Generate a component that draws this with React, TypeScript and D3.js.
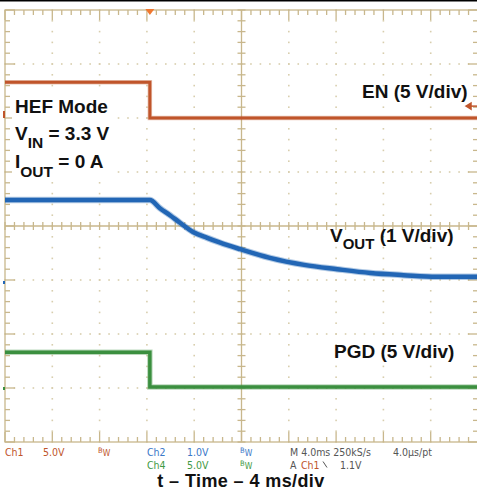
import * as d3 from "d3";

// scope screen: 10 x 8 divisions, 5 minor ticks each
const W = 477;
const H = 493;

// time axis (ms), 4 ms/div
const timeDomain = [-12, 28];
const edgeTime = 0.25;

// Ch1 EN (V)
const enTime = [-12, edgeTime, edgeTime, 28];
const enVolts = [3.3, 3.3, 0, 0];

// Ch2 VOUT (V)
const voutTime = [-12, 0.25, 1.1, 1.95, 2.8, 3.9, 5.1, 6.2, 7.9, 10.4, 13.3, 16.1, 18.9, 21.7, 24.5, 28];
const voutVolts = [1.48, 1.48, 1.33, 1.2, 1.06, 0.89, 0.78, 0.69, 0.57, 0.41, 0.28, 0.2, 0.13, 0.09, 0.06, 0.06];

// Ch4 PGD (V)
const pgdTime = [-12, edgeTime, edgeTime, 28];
const pgdVolts = [3.3, 3.3, 0.1, 0.1];

// channel setup: volts per division, ground level in divisions from centre
const ch1 = { vdiv: 5, ground: 2 };
const ch2 = { vdiv: 1, ground: -1 };
const ch4 = { vdiv: 5, ground: -3 };
const trigLevel = 1.1;

const readoutRow1 = ["Ch1", "5.0V", "BW", "Ch2", "1.0V", "BW", "M 4.0ms 250kS/s", "4.0\u00b5s/pt"];
const readoutRow2 = ["Ch4", "5.0V", "BW", "A", "Ch1", "", "1.1V"];

const ORANGE = "#c0552b";
const BLUE = "#2266b5";
const GREEN = "#3b8f3f";
const GRID = "#c8b78c";
const DOT = "#d8cead";
const GRAY = "#555555";
const TXT_BLUE = "#3a78c8";
const TXT_GREEN = "#3f9a45";

const row1X = [5, 43, 98, 147, 187, 240, 290, 393];
const row1C = [ORANGE, ORANGE, ORANGE, TXT_BLUE, TXT_BLUE, TXT_BLUE, GRAY, GRAY];
const row2X = [147, 187, 240, 290, 301, 323, 340];
const row2C = [TXT_GREEN, TXT_GREEN, TXT_GREEN, GRAY, ORANGE, GRAY, GRAY];

const App = () => {
  const left = 5, right = 478, top = 10, bottom = 442;
  const x = d3.scaleLinear().domain(timeDomain).range([left, right]);
  const divX = d3.scaleLinear().domain([0, 10]).range([left, right]);
  const divY = d3.scaleLinear().domain([-4, 4]).range([bottom, top]);
  const chY = (ch: { vdiv: number; ground: number }, v: number) => divY(ch.ground + v / ch.vdiv);

  const stepLine = (ch: { vdiv: number; ground: number }) =>
    d3.line<[number, number]>().x((d) => x(d[0])).y((d) => chY(ch, d[1]));

  const enPath = stepLine(ch1)(enTime.map((t, i) => [t, enVolts[i]] as [number, number])) as string;
  const voutPath = stepLine(ch2)
    .curve(d3.curveMonotoneX)(voutTime.map((t, i) => [t, voutVolts[i]] as [number, number])) as string;
  const pgdPath = stepLine(ch4)(pgdTime.map((t, i) => [t, pgdVolts[i]] as [number, number])) as string;

  const minorX = d3.range(0, 51).map((i) => i / 5);
  const minorY = d3.range(-20, 21).map((i) => i / 5);
  const majorX = d3.range(1, 10).filter((i) => i !== 5);
  const majorY = d3.range(-3, 4).filter((i) => i !== 0);

  const cx = divX(5);
  const cy = divY(0);
  const trigX = x(edgeTime);
  const trigY = chY(ch1, trigLevel);

  const row1Y = 456;
  const row2Y = 468.5;

  const readout = (t: string, i: number, px: number, py: number, color: string, key: string) => {
    if (t === "BW")
      return (
        <text key={key} x={px} y={py - 3} fill={color} fontSize={7.5}>
          B<tspan dy={3} fontSize={8.5}>W</tspan>
        </text>
      );
    if (t === "")
      return <path key={key} d={`M${px},${py - 7}L${px + 4},${py - 1}`} stroke={color} strokeWidth={1} fill="none" />;
    return (
      <text key={key} x={px} y={py} fill={color}>
        {t}
      </text>
    );
  };

  return (
    <svg
      width={W}
      height={H}
      style={{ position: "absolute", left: 0, top: 0, background: "#fff" }}
      fontFamily="'Liberation Sans', Arial, sans-serif"
    >
      <rect x={0} y={0} width={W} height={1.5} fill="#000" />

      {/* dotted graticule */}
      <g fill={DOT}>
        {majorX.map((i) =>
          minorY.map((j) => (
            <rect key={`v${i}_${j}`} x={divX(i) - 0.8} y={divY(j) - 0.8} width={1.6} height={1.6} />
          ))
        )}
        {majorY.map((j) =>
          minorX.map((i) => (
            <rect key={`h${j}_${i}`} x={divX(i) - 0.8} y={divY(j) - 0.8} width={1.6} height={1.6} />
          ))
        )}
      </g>

      {/* frame, centre axes and ticks */}
      <g stroke={GRID} strokeWidth={1.3} fill="none">
        <rect x={left} y={top} width={right - left} height={bottom - top} />
        <line x1={cx} x2={cx} y1={top} y2={bottom} />
        <line x1={left} x2={right} y1={cy} y2={cy} />
        {minorX.map((d, i) => {
          const px = divX(d);
          const len = i % 5 === 0 ? 10 : 5;
          return (
            <g key={`tx${i}`}>
              <line x1={px} x2={px} y1={top} y2={top + len} />
              <line x1={px} x2={px} y1={bottom} y2={bottom - len} />
              <line x1={px} x2={px} y1={cy - 4} y2={cy + 4} />
            </g>
          );
        })}
        {minorY.map((d, i) => {
          const py = divY(d);
          const len = i % 5 === 0 ? 10 : 5;
          return (
            <g key={`ty${i}`}>
              <line x1={left} x2={left + len} y1={py} y2={py} />
              <line x1={right} x2={right - len} y1={py} y2={py} />
              <line x1={cx - 4} x2={cx + 4} y1={py} y2={py} />
            </g>
          );
        })}
      </g>

      {/* traces */}
      <g fill="none">
        <path d={enPath} stroke={ORANGE} strokeOpacity={0.35} strokeWidth={4.5} />
        <path d={enPath} stroke={ORANGE} strokeWidth={3} />
        <path d={voutPath} stroke={BLUE} strokeOpacity={0.35} strokeWidth={6.5} />
        <path d={voutPath} stroke={BLUE} strokeWidth={4.5} />
        <path d={pgdPath} stroke={GREEN} strokeOpacity={0.35} strokeWidth={5.5} />
        <path d={pgdPath} stroke={GREEN} strokeWidth={3.5} />
      </g>

      {/* markers */}
      <path d={`M${trigX - 4.5},${top - 1}L${trigX + 4.5},${top - 1}L${trigX},${top + 5}Z`} fill="#f07830" />
      <rect x={3} y={chY(ch1, 0) - 7} width={2} height={7} fill={ORANGE} />
      <rect x={3} y={chY(ch2, 0) + 1} width={2} height={3} fill={BLUE} />
      <rect x={3} y={chY(ch4, 0) - 1} width={2} height={3} fill={GREEN} />
      <g stroke={ORANGE} strokeWidth={1.5} fill={ORANGE}>
        <line x1={470} x2={477} y1={trigY} y2={trigY} />
        <path d={`M466,${trigY}L471,${trigY - 3}L471,${trigY + 3}Z`} />
      </g>

      {/* annotation box */}
      <rect x={12} y={90} width={104} height={90} fill="#fff" />
      <g fontWeight="bold" fontSize={19} fill="#111">
        <text x={15} y={113}>HEF Mode</text>
        <text x={15} y={140}>
          V<tspan dy={8} fontSize={15.5}>IN</tspan>
          <tspan dy={-8}> = 3.3 V</tspan>
        </text>
        <text x={15} y={168}>
          I<tspan dy={9} fontSize={15.5}>OUT</tspan>
          <tspan dy={-9}> = 0 A</tspan>
        </text>
        <text x={362} y={98}>EN (5 V/div)</text>
        <text x={330} y={242}>
          V<tspan dy={7} fontSize={15}>OUT</tspan>
          <tspan dy={-7}> (1 V/div)</tspan>
        </text>
        <text x={334} y={358}>PGD (5 V/div)</text>
        <text x={241} y={487} textAnchor="middle" fontSize={18} letterSpacing={0.4}>
          t – Time – 4 ms/div
        </text>
      </g>

      {/* readout */}
      <g fontFamily="'Liberation Sans Narrow', 'DejaVu Sans Condensed', sans-serif" fontSize={10.5}>
        {readoutRow1.map((t, i) => readout(t, i, row1X[i], row1Y, row1C[i], `r1${i}`))}
        {readoutRow2.map((t, i) => readout(t, i, row2X[i], row2Y, row2C[i], `r2${i}`))}
      </g>
    </svg>
  );
};

export default App;
